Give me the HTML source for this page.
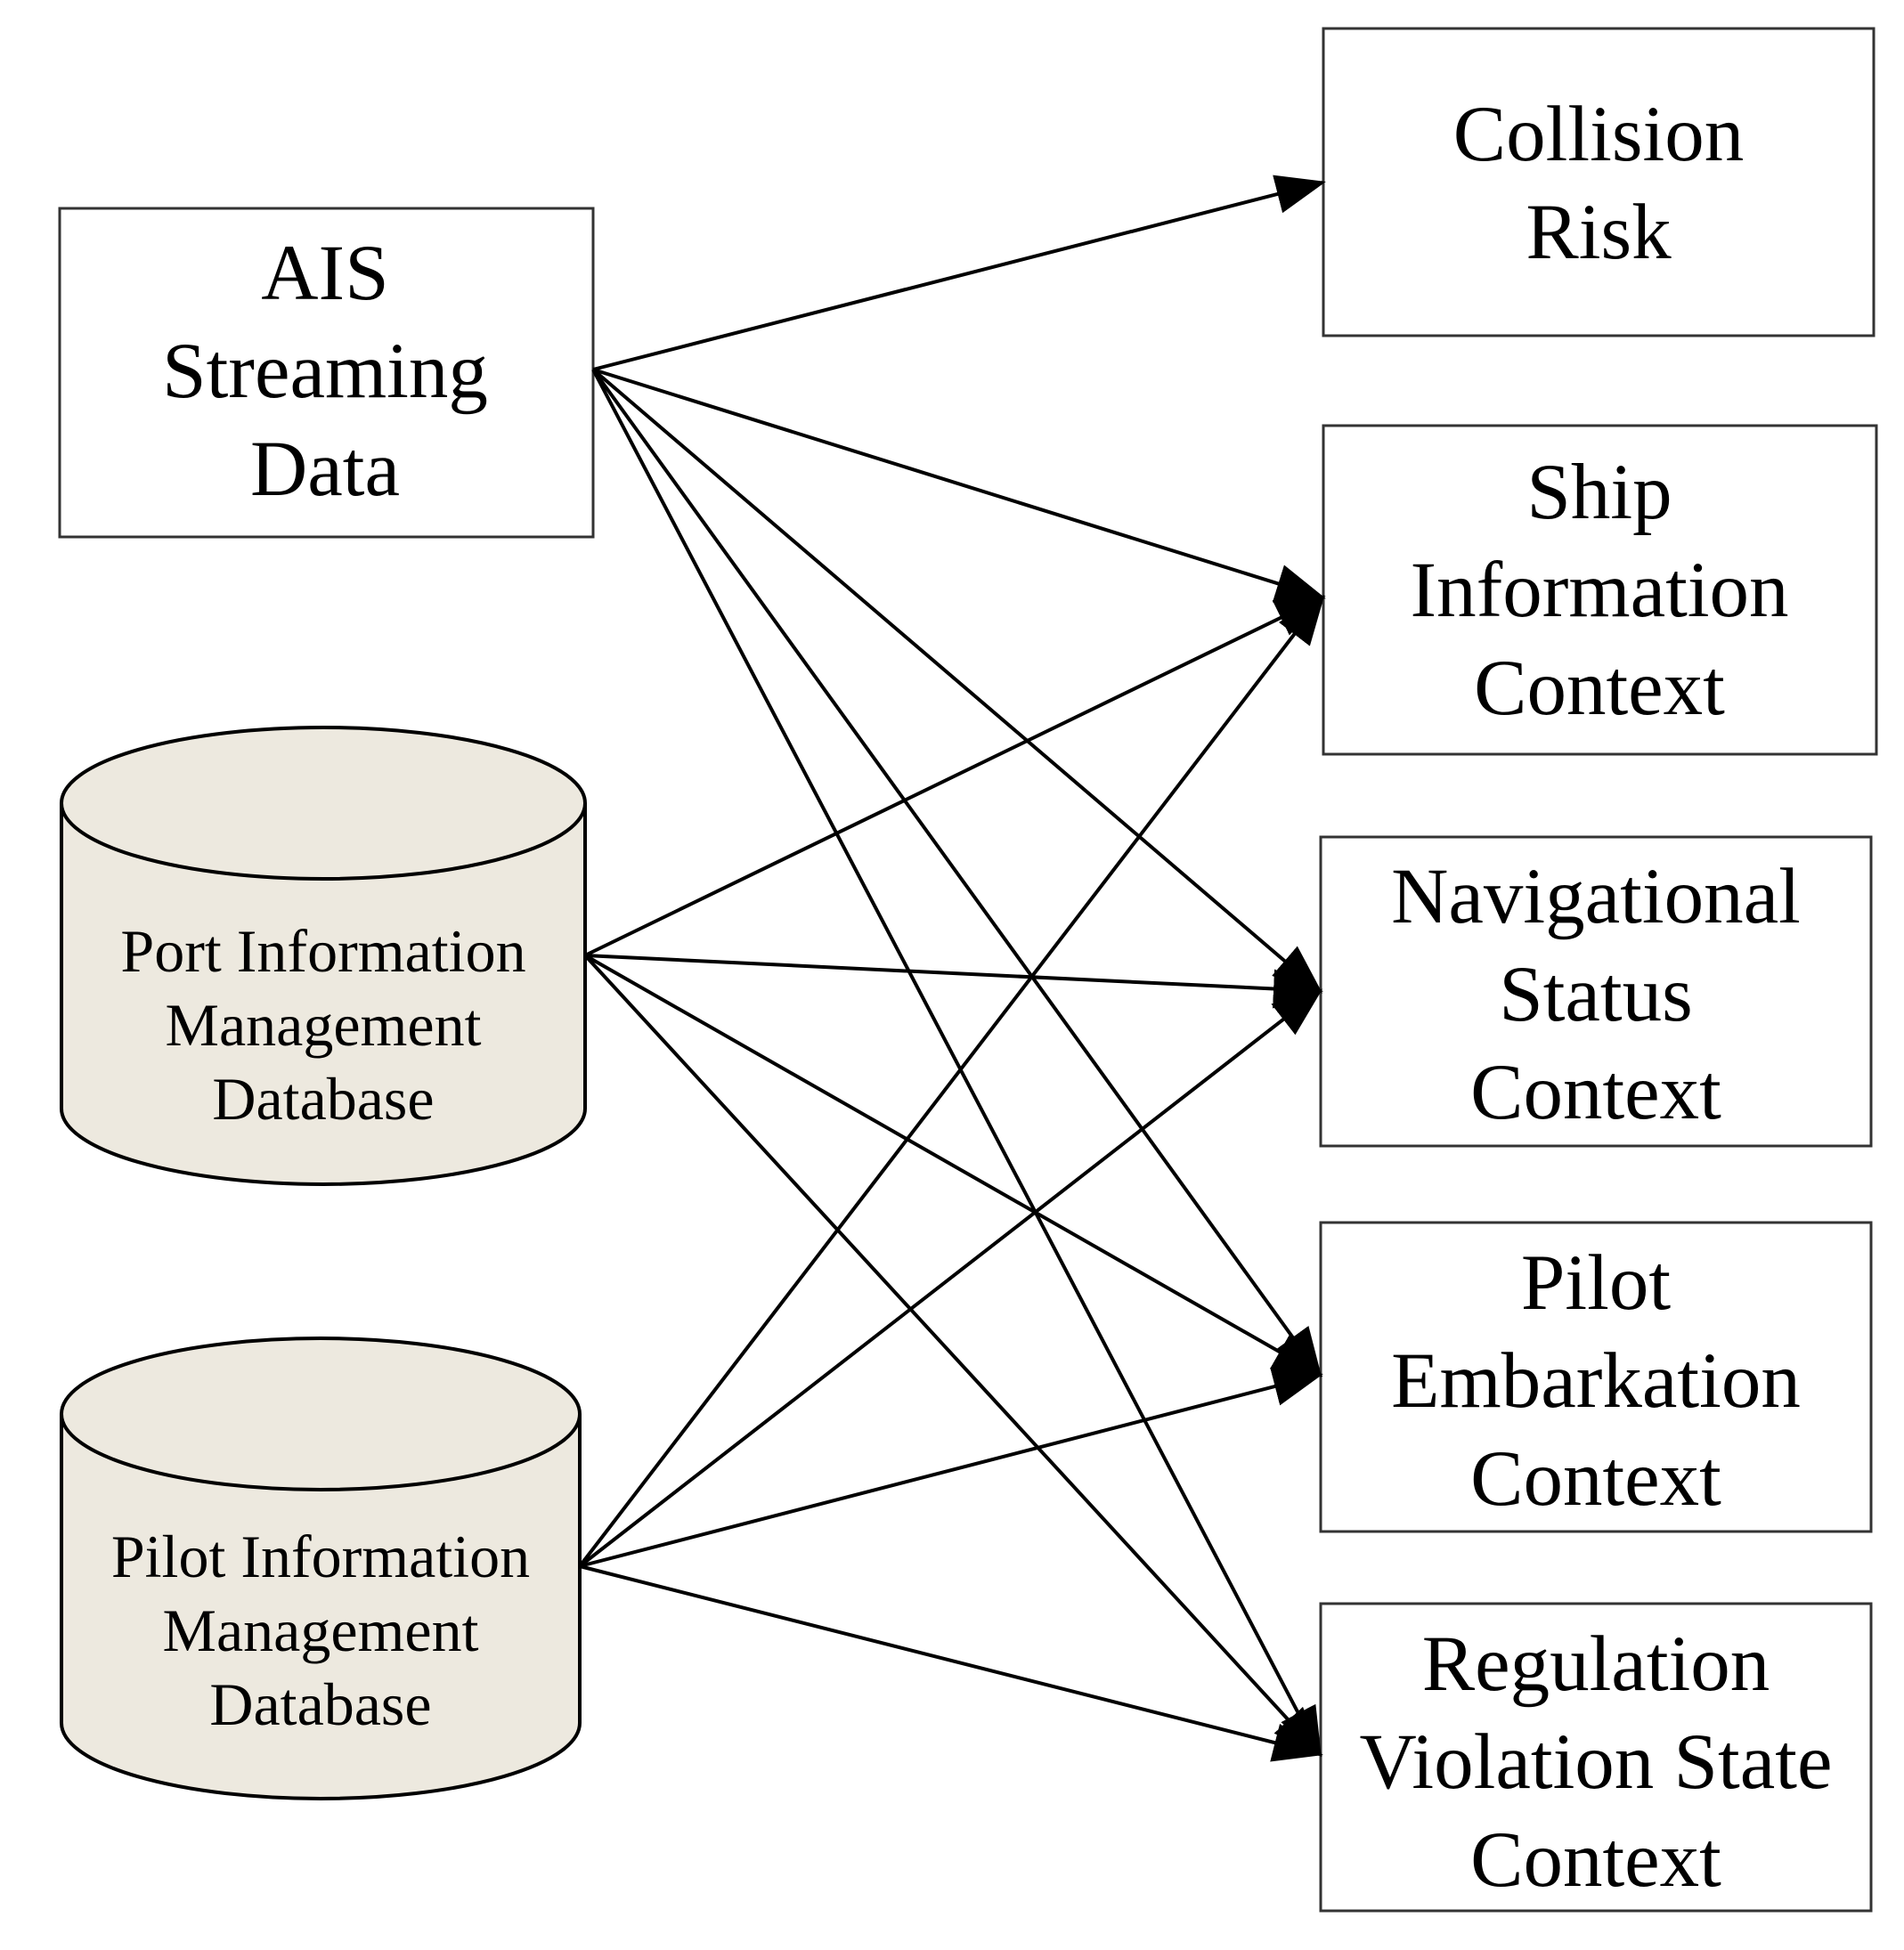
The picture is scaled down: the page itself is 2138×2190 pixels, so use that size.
<!DOCTYPE html>
<html><head><meta charset="utf-8"><style>
html,body{margin:0;padding:0;background:#fff;}
svg{display:block;}
text{font-family:"Liberation Serif",serif;fill:#000;text-anchor:middle;}
</style></head><body>
<svg width="2138" height="2190" viewBox="0 0 2138 2190" xmlns="http://www.w3.org/2000/svg">
<defs>
<marker id="ah" markerWidth="14" markerHeight="11" refX="13" refY="5.5" orient="auto" markerUnits="strokeWidth">
<path d="M0,0 L14,5.5 L0,11 z" fill="#000"/>
</marker>
</defs>
<g fill="none" stroke="#333" stroke-width="3">
<rect x="67" y="234" width="599" height="369" fill="#fff"/>
<rect x="1486" y="32" width="618" height="345" fill="#fff"/>
<rect x="1486" y="478" width="621" height="369" fill="#fff"/>
<rect x="1483" y="940" width="618" height="347" fill="#fff"/>
<rect x="1483" y="1373" width="618" height="347" fill="#fff"/>
<rect x="1483" y="1801" width="618" height="345" fill="#fff"/>
</g>
<g stroke="#000" stroke-width="4" fill="#ede9df">
<path d="M69,902 L69,1245 A294,85 0 0 0 657,1245 L657,902"/>
<ellipse cx="363" cy="902" rx="294" ry="85"/>
<path d="M69,1588 L69,1935 A291,85 0 0 0 651,1935 L651,1588"/>
<ellipse cx="360" cy="1588" rx="291" ry="85"/>
</g>
<g stroke="#000" stroke-width="4" fill="none" marker-end="url(#ah)">
<line x1="666" y1="415" x2="1485" y2="205"/>
<line x1="666" y1="415" x2="1485" y2="671"/>
<line x1="666" y1="415" x2="1482" y2="1113"/>
<line x1="666" y1="415" x2="1482" y2="1544"/>
<line x1="666" y1="415" x2="1482" y2="1970"/>
<line x1="657" y1="1073" x2="1485" y2="671"/>
<line x1="657" y1="1073" x2="1482" y2="1113"/>
<line x1="657" y1="1073" x2="1482" y2="1544"/>
<line x1="657" y1="1073" x2="1482" y2="1970"/>
<line x1="651" y1="1759" x2="1485" y2="671"/>
<line x1="651" y1="1759" x2="1482" y2="1113"/>
<line x1="651" y1="1759" x2="1482" y2="1544"/>
<line x1="651" y1="1759" x2="1482" y2="1970"/>
</g>
<g font-size="89">
<text x="365" y="336">AIS</text>
<text x="365" y="446">Streaming</text>
<text x="365" y="556">Data</text>
<text x="1795" y="180">Collision</text>
<text x="1795" y="290">Risk</text>
<text x="1796" y="582">Ship</text>
<text x="1796" y="692">Information</text>
<text x="1796" y="802">Context</text>
<text x="1792" y="1036">Navigational</text>
<text x="1792" y="1146">Status</text>
<text x="1792" y="1256">Context</text>
<text x="1792" y="1470">Pilot</text>
<text x="1792" y="1580">Embarkation</text>
<text x="1792" y="1690">Context</text>
<text x="1792" y="1898">Regulation</text>
<text x="1792" y="2008">Violation State</text>
<text x="1792" y="2118">Context</text>
</g>
<g font-size="68">
<text x="363" y="1091">Port Information</text>
<text x="363" y="1174">Management</text>
<text x="363" y="1257">Database</text>
<text x="360" y="1771">Pilot Information</text>
<text x="360" y="1854">Management</text>
<text x="360" y="1937">Database</text>
</g>
</svg>
</body></html>
